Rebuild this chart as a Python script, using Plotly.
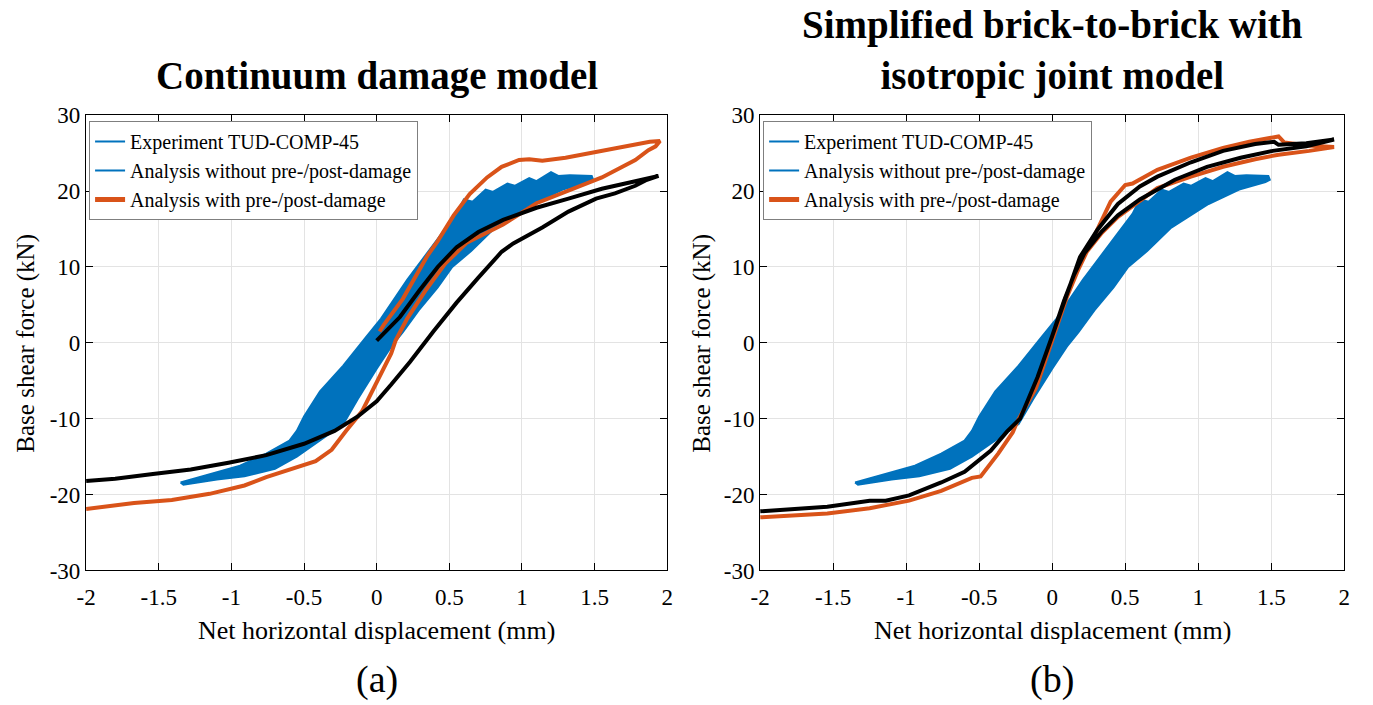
import plotly.graph_objects as go

# ---------------- data ----------------
# Experiment TUD-COMP-45 : outline of the dense hysteresis band (same in both panels)
exp_upper_x = [-1.35, -1.2, -0.94, -0.76, -0.6, -0.55, -0.5, -0.39, -0.23, -0.08, 0.03, 0.21, 0.34, 0.44, 0.55,
               0.6, 0.66, 0.75, 0.8, 0.9, 0.95, 1.05, 1.1, 1.2, 1.25, 1.33, 1.48]
exp_upper_y = [-18.4, -17.6, -16.2, -14.6, -12.9, -11.6, -9.7, -6.4, -3.0, 0.6, 3.2, 8.3, 11.7, 14.2, 17.0,
               18.9, 18.6, 20.2, 19.9, 21.0, 20.7, 21.7, 21.3, 22.5, 22.0, 22.1, 22.0]
exp_lower_x = [1.49, 1.46, 1.28, 1.07, 0.81, 0.65, 0.52, 0.42, 0.29, 0.18, 0.10, 0.0, -0.13, -0.23,
               -0.39, -0.55, -0.70, -0.91, -1.1, -1.33]
exp_lower_y = [21.5, 21.2, 20.2, 18.3, 15.1, 12.1, 10.0, 7.3, 4.3, 1.4, -0.5, -3.4, -7.4, -10.7,
               -12.8, -15.0, -16.6, -17.6, -18.0, -18.7]

# (a) Continuum damage model
a_black_x = [0.0, 0.08, 0.16, 0.29, 0.42, 0.55, 0.7, 0.87, 1.1, 1.32, 1.55, 1.78, 1.94,
             1.85, 1.78, 1.64, 1.51, 1.32, 1.14, 0.94, 0.86, 0.70, 0.55, 0.39, 0.23, 0.10, 0.0,
             -0.13, -0.29, -0.5, -0.76, -1.02, -1.28, -1.54, -1.8, -2.0]
a_black_y = [0.3, 1.8, 3.4, 6.8, 10.0, 12.6, 14.6, 16.2, 17.8, 19.0, 20.3, 21.3, 22.0,
             21.4, 20.7, 19.7, 19.0, 17.3, 15.2, 13.1, 12.0, 8.6, 5.3, 1.5, -2.5, -5.5, -7.7,
             -9.7, -11.6, -13.3, -14.8, -15.8, -16.7, -17.3, -17.9, -18.2]
a_orange_x = [0.02, 0.05, 0.18, 0.29, 0.35, 0.42, 0.53, 0.64, 0.76, 0.86, 0.98, 1.05, 1.14, 1.3,
              1.44, 1.66, 1.88, 1.95, 1.92, 1.87, 1.78, 1.55, 1.32, 1.10, 0.87, 0.62, 0.47, 0.34,
              0.21, 0.13, 0.10, 0.0, -0.10, -0.21, -0.31, -0.42, -0.5, -0.60, -0.76, -0.91,
              -1.15, -1.41, -1.67, -2.0]
a_orange_y = [1.5, 2.4, 5.8, 9.6, 11.5, 13.4, 16.8, 19.6, 21.8, 23.2, 24.1, 24.2, 24.0, 24.4,
              24.9, 25.7, 26.5, 26.6, 25.9, 25.4, 24.1, 21.8, 20.1, 18.4, 15.6, 13.2, 10.4, 7.0,
              3.2, 0.3, -1.4, -5.2, -9.0, -11.6, -14.1, -15.6, -16.1, -16.7, -17.7, -18.8,
              -19.9, -20.7, -21.1, -21.9]

# (b) Simplified brick-to-brick with isotropic joint model
b_black_x = [0.0, 0.11, 0.19, 0.31, 0.45, 0.6, 0.72, 0.95, 1.17, 1.39, 1.52, 1.55, 1.74, 1.93,
             1.74, 1.51, 1.29, 1.06, 0.84, 0.6, 0.45, 0.34, 0.22, 0.15, 0.08, 0.0,
             -0.1, -0.22, -0.31, -0.42, -0.6, -0.76, -0.98, -1.14, -1.25, -1.54, -2.0]
b_black_y = [0.9, 7.0, 11.3, 14.9, 18.3, 20.6, 21.9, 23.8, 25.3, 26.2, 26.5, 26.1, 26.3, 26.8,
             25.9, 25.3, 24.4, 23.2, 21.5, 18.9, 16.8, 14.7, 11.8, 9.0, 5.5, 0.9,
             -4.5, -10.0, -11.7, -14.2, -17.0, -18.4, -20.1, -20.8, -20.8, -21.6, -22.2]
b_orange_x = [0.0, 0.09, 0.18, 0.29, 0.4, 0.5, 0.55, 0.72, 0.95, 1.17, 1.35, 1.55, 1.59, 1.75,
              1.93, 1.76, 1.55, 1.39, 1.17, 0.95, 0.72, 0.6, 0.45, 0.34, 0.22, 0.1, 0.0,
              -0.11, -0.24, -0.27, -0.37, -0.49, -0.55, -0.76, -0.98, -1.25, -1.54, -2.0]
b_orange_y = [0.4, 5.9, 9.7, 14.3, 18.6, 20.8, 21.0, 22.8, 24.4, 25.7, 26.5, 27.2, 26.4, 26.0,
              25.8, 25.3, 24.8, 24.2, 23.2, 21.9, 20.4, 18.7, 16.6, 14.5, 11.6, 6.0, 0.4,
              -5.9, -10.4, -11.8, -14.6, -17.6, -17.8, -19.5, -20.8, -21.8, -22.5, -23.0]

x_ticks = [-2, -1.5, -1, -0.5, 0, 0.5, 1, 1.5, 2]
x_tick_text = ["-2", "-1.5", "-1", "-0.5", "0", "0.5", "1", "1.5", "2"]
y_ticks = [-30, -20, -10, 0, 10, 20, 30]
y_tick_text = ["-30", "-20", "-10", "0", "10", "20", "30"]

legend_names = ["Experiment TUD-COMP-45", "Analysis without pre-/post-damage",
                "Analysis with pre-/post-damage"]
titles = ["<b>Continuum damage model</b>",
          "<b>Simplified brick-to-brick with<br>isotropic joint model</b>"]
captions = ["(a)", "(b)"]

# ---------------- styling ----------------
BLUE = "#0072BD"
ORANGE = "#D95319"
FONT = "Liberation Serif"
W, H = 1373, 705

fig = go.Figure()

panels = [
    ("x", "y", "legend", a_black_x, a_black_y, a_orange_x, a_orange_y),
    ("x2", "y2", "legend2", b_black_x, b_black_y, b_orange_x, b_orange_y),
]

band_x = exp_upper_x + exp_lower_x + [exp_upper_x[0]]
band_y = exp_upper_y + exp_lower_y + [exp_upper_y[0]]

for xa, ya, lg, bx, by, ox, oy in panels:
    fig.add_trace(go.Scatter(x=band_x, y=band_y, mode="lines", fill="toself",
                             fillcolor=BLUE, line=dict(color=BLUE, width=2),
                             xaxis=xa, yaxis=ya, showlegend=False, hoverinfo="skip"))
    fig.add_trace(go.Scatter(x=ox, y=oy, mode="lines", line=dict(color=ORANGE, width=4),
                             xaxis=xa, yaxis=ya, showlegend=False))
    fig.add_trace(go.Scatter(x=bx, y=by, mode="lines", line=dict(color="black", width=4),
                             xaxis=xa, yaxis=ya, showlegend=False))
    # legend entries (as in the original figure)
    for name, col, wd in zip(legend_names, [BLUE, BLUE, ORANGE], [2, 2, 5]):
        fig.add_trace(go.Scatter(x=[None], y=[None], mode="lines", name=name,
                                 line=dict(color=col, width=wd), xaxis=xa, yaxis=ya,
                                 legend=lg, showlegend=True))

xdom = [[77 / W, 665 / W], [759 / W, 1350 / W]]
ydom = [1 - 579 / H, 1 - 107 / H]

axis_common = dict(showline=True, linecolor="black", linewidth=1.3, mirror="ticks",
                   ticks="inside", ticklen=7, tickwidth=1.2, tickcolor="black",
                   showgrid=True, gridcolor="#e3e3e3", gridwidth=1, zeroline=False,
                   tickfont=dict(family=FONT, size=23, color="black"))

fig.update_layout(
    width=W, height=H, margin=dict(l=0, r=0, t=0, b=0),
    paper_bgcolor="white", plot_bgcolor="white",
    font=dict(family=FONT, color="black"),
    xaxis=dict(domain=xdom[0], range=[-2, 2], tickvals=x_ticks, ticktext=x_tick_text,
               anchor="y", ticklabelstandoff=6, **axis_common),
    yaxis=dict(domain=ydom, range=[-30, 30], tickvals=y_ticks, ticktext=y_tick_text,
               anchor="x", **axis_common),
    xaxis2=dict(domain=xdom[1], range=[-2, 2], tickvals=x_ticks, ticktext=x_tick_text,
                anchor="y2", ticklabelstandoff=6, **axis_common),
    yaxis2=dict(domain=ydom, range=[-30, 30], tickvals=y_ticks, ticktext=y_tick_text,
                anchor="x2", **axis_common),
    legend=dict(x=80 / W, y=1 - 113 / H, xanchor="left", yanchor="top",
                bgcolor="white", bordercolor="#7f7f7f", borderwidth=1,
                font=dict(family=FONT, size=20, color="black"), tracegroupgap=0,
                itemwidth=30),
    legend2=dict(x=762 / W, y=1 - 113 / H, xanchor="left", yanchor="top",
                 bgcolor="white", bordercolor="#7f7f7f", borderwidth=1,
                 font=dict(family=FONT, size=20, color="black"), tracegroupgap=0,
                 itemwidth=30),
)

anns = []
centers = [(xdom[0][0] + xdom[0][1]) / 2, (xdom[1][0] + xdom[1][1]) / 2]
anns.append(dict(text=titles[0], x=centers[0], y=1 - 66 / H, xref="paper", yref="paper",
                 showarrow=False, font=dict(family=FONT, size=39, color="black"),
                 xanchor="center", yanchor="middle"))
anns.append(dict(text=titles[1], x=centers[1], y=1 - 40 / H, xref="paper", yref="paper",
                 showarrow=False, font=dict(family=FONT, size=39, color="black"),
                 xanchor="center", yanchor="middle"))
for i, c in enumerate(centers):
    anns.append(dict(text="Net horizontal displacement (mm)", x=c, y=1 - 641 / H,
                     xref="paper", yref="paper", showarrow=False,
                     font=dict(family=FONT, size=26, color="black"),
                     xanchor="center", yanchor="middle"))
    anns.append(dict(text=captions[i], x=c, y=1 - 692 / H, xref="paper", yref="paper",
                     showarrow=False, font=dict(family=FONT, size=38, color="black"),
                     xanchor="center", yanchor="middle"))
for xp in [16 / W, 700 / W]:
    anns.append(dict(text="Base shear force (kN)", x=xp, y=(ydom[0] + ydom[1]) / 2,
                     xref="paper", yref="paper", showarrow=False, textangle=-90,
                     font=dict(family=FONT, size=25, color="black"),
                     xanchor="center", yanchor="middle"))
fig.update_layout(annotations=anns)

fig.write_html("out.html")
